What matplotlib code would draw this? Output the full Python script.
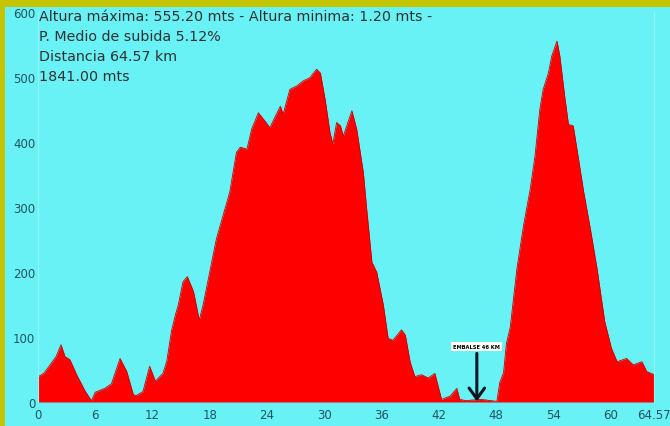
import matplotlib
matplotlib.use("Agg")
import matplotlib.pyplot as plt
from matplotlib.patches import Rectangle

# Elevation profile (km, metres)
km = [0, 0.14, 0.6, 1.26, 1.9, 2.41, 2.83, 3.35, 4.05, 4.93, 5.6, 6.0, 7.0, 7.7,
      8.6, 9.3, 10.0, 10.3, 11.0, 11.7, 12.3, 13.1, 13.5, 14.0, 14.4, 14.7, 15.2,
      15.65, 16.3, 16.9, 17.3, 18.0, 18.7, 19.4, 20.1, 20.8, 21.2, 21.9, 22.4,
      23.1, 23.8, 24.3, 24.8, 25.4, 25.7, 26.4, 27.1, 27.8, 28.5, 29.2, 29.6,
      30.1, 30.6, 30.9, 31.3, 31.7, 32.0, 32.9, 33.4, 34.1, 34.45, 35.0, 35.5,
      36.2, 36.7, 37.2, 38.1, 38.5, 39.0, 39.5, 40.2, 40.9, 41.6, 42.0, 42.3,
      43.2, 43.9, 44.2, 44.9, 45.5, 46.5, 47.5, 48.1, 48.4, 48.8, 49.1, 49.5,
      50.2, 50.9, 51.6, 52.1, 52.6, 52.95, 53.5, 53.85, 54.4, 54.7, 55.2, 55.6,
      56.1, 56.6, 57.2, 57.9, 58.6, 59.4, 60.1, 60.7, 61.7, 62.4, 63.3, 63.8,
      64.57]
alt = [40, 40, 44, 57, 70, 88, 70, 65, 42, 17, 2, 15, 21, 28,
       67, 47, 11, 10, 16, 55, 32, 44, 63, 110, 134, 149, 185,
       193, 170, 126, 149, 200, 251, 287, 323, 384, 392, 389, 420,
       445, 432, 422, 437, 455, 443, 481, 486, 494, 499, 512, 506,
       465, 415, 397, 430, 425, 409, 448, 420, 353, 297, 215, 200,
       149, 98, 95, 111, 103, 62, 39, 42, 37, 44, 21, 4,
       9, 21, 4, 2, 3, 4, 2, 1, 30, 45, 90, 115,
       205, 272, 328, 379, 450, 481, 506, 532, 555.2, 532, 471, 427,
       425, 379, 323, 266, 205, 124, 83, 62, 67, 57, 62, 47,
       42]

xticks = [0, 6, 12, 18, 24, 30, 36, 42, 48, 54, 60, 64.57]
xtick_labels = ["0", "6", "12", "18", "24", "30", "36", "42", "48", "54", "60", "64.57"]
yticks = [0, 100, 200, 300, 400, 500, 600]

info_lines = [
    "Altura máxima: 555.20 mts - Altura minima: 1.20 mts -",
    "P. Medio de subida 5.12%",
    "Distancia 64.57 km",
    "1841.00 mts",
]
note_km = 46
note_text = "EMBALSE 46 KM"

W, H = 670, 427
cyan = "#68f2f6"
yellow = "#c4c400"
tick_col = "#24525e"

plt.rcParams["font.family"] = ["DejaVu Sans"]

fig = plt.figure(figsize=(W / 100, H / 100), dpi=100, facecolor=yellow)
fig.patches.append(Rectangle((5 / W, 0), 1, (H - 8) / H, transform=fig.transFigure,
                             facecolor=cyan, edgecolor="none", zorder=-5))

ax = fig.add_axes([38 / W, (H - 403) / H, (654 - 38) / W, (403 - 13) / H])
ax.set_facecolor(cyan)
ax.fill_between(km, alt, 0, color="#ff0000", linewidth=0)
ax.plot(km, alt, color="#c80000", linewidth=0.6)

ax.set_xlim(0, 64.57)
ax.set_ylim(0, 600)
ax.set_xticks(xticks)
ax.set_xticklabels(xtick_labels)
ax.set_yticks(yticks)
ax.tick_params(length=0, labelsize=8.5, colors=tick_col)
ax.tick_params(axis="x", pad=4)
ax.tick_params(axis="y", pad=2)
for s in ["top", "bottom"]:
    ax.spines[s].set_visible(False)
for s in ["left", "right"]:
    ax.spines[s].set_color("#94f6f8")
    ax.spines[s].set_linewidth(0.8)

# header text
for i, line in enumerate(info_lines):
    fig.text(39 / W, 1 - (17 + i * 20) / H, line, fontsize=10.3, color="#303030",
             va="center", ha="left")

# reservoir marker
ax.annotate(note_text, xy=(note_km, 1), xytext=(note_km, 86),
            ha="center", va="center", fontsize=3.7, fontweight="bold",
            bbox=dict(boxstyle="square,pad=0.4", facecolor="white", edgecolor="none"),
            arrowprops=dict(arrowstyle="->,head_length=0.55,head_width=0.4",
                            mutation_scale=14, color="#08161f", lw=2.2,
                            shrinkA=2, shrinkB=0))

fig.savefig("out.png", dpi=100, facecolor=yellow)
